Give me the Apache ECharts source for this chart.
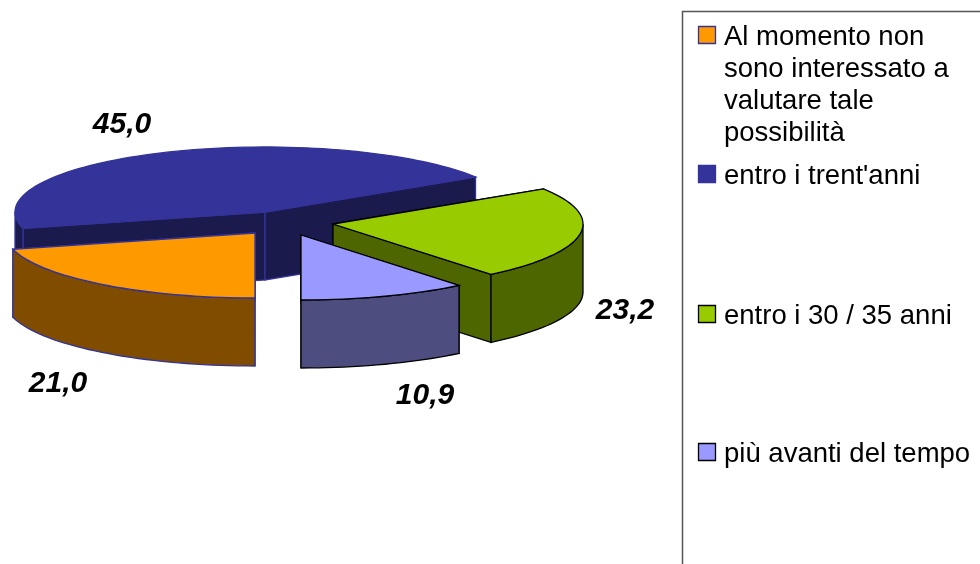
<!DOCTYPE html>
<html>
<head>
<meta charset="utf-8">
<script src="https://cdn.jsdelivr.net/npm/echarts@6/dist/echarts.min.js"></script>
<style>
html, body { margin: 0; padding: 0; background: #fff; }
#chart { width: 980px; height: 564px; }
</style>
</head>
<body>
<div id="chart"></div>
<script>
// dati
const categories = ['Al momento non\nsono interessato a\nvalutare tale\npossibilità', "entro i trent'anni", 'entro i 30 / 35 anni', 'più avanti del tempo']
const values = [21.0, 45.0, 23.2, 10.9]

// aspetto di ogni fetta
const topColors = ['#FF9900', '#333399', '#99CC00', '#9999FF']
const sideColors = ['#804D00', '#1A1A4D', '#4D6600', '#4D4D80']
const lineColors = ['#333399', '#333399', '#000000', '#000000']
const centersX = [255, 265, 333, 301]
const centersY = [233, 212, 224, 235]
const labelsX = [58, 122, 625, 425]
const labelsY = [384, 125, 311, 396]
const drawOrder = [3, 0, 1, 2]
const legendY = [35, 174, 314, 452]

const radiusX = 250
const radiusY = 65
const depth = 68
const startAngle = 180 // la prima fetta parte dal basso, senso orario

const total = values.reduce((a, b) => a + b, 0)

const project = (cx, cy, deg, drop) => {
	const rad = deg * Math.PI / 180
	return [cx + radiusX * Math.sin(rad), cy - radiusY * Math.cos(rad) + drop]
}

const arcPoints = (cx, cy, from, to, drop) => {
	const pts = []
	const steps = Math.max(2, Math.ceil(Math.abs(to - from) / 2))
	for (let s = 0; s <= steps; s++) {
		pts.push(project(cx, cy, from + (to - from) * s / steps, drop))
	}
	return pts
}

const renderSlice = (params, api) => {
	const i = api.value(0)
	let from = startAngle
	for (let k = 0; k < i; k++) from += values[k] / total * 360
	const to = from + api.value(1) / total * 360
	const cx = centersX[i]
	const cy = centersY[i]
	const base = drawOrder[i] * 10
	const stroke = lineColors[i]
	const sideStyle = { fill: sideColors[i], stroke: stroke, lineWidth: 1.3 }
	const children = []

	// pareti interne
	;[from, to].forEach((deg, n) => {
		const p = project(cx, cy, deg, 0)
		const q = project(cx, cy, deg, depth)
		children.push({
			type: 'polygon',
			z2: base + n,
			shape: { points: [[cx, cy], p, q, [cx, cy + depth]] },
			style: sideStyle
		})
	})

	// bordo esterno, solo la parte davanti (90-270 gradi)
	const visible = [[from, to], [from - 360, to - 360]]
	visible.forEach(range => {
		const a = Math.max(range[0], 90)
		const b = Math.min(range[1], 270)
		if (b > a) {
			children.push({
				type: 'polygon',
				z2: base + 2,
				shape: { points: arcPoints(cx, cy, a, b, 0).concat(arcPoints(cx, cy, b, a, depth)) },
				style: sideStyle
			})
		}
	})

	// faccia superiore
	children.push({
		type: 'polygon',
		z2: base + 3,
		shape: { points: [[cx, cy]].concat(arcPoints(cx, cy, from, to, 0)) },
		style: { fill: topColors[i], stroke: stroke, lineWidth: 1.3 }
	})

	// etichetta del valore
	children.push({
		type: 'text',
		z2: 100,
		style: {
			text: api.value(1).toFixed(1).replace('.', ','),
			x: labelsX[i],
			y: labelsY[i],
			fill: '#000',
			font: 'italic bold 30px "Liberation Sans", Arial, sans-serif',
			align: 'center',
			verticalAlign: 'middle'
		}
	})
	return { type: 'group', children: children }
}

const legendGraphics = [{
	type: 'rect',
	shape: { x: 682.5, y: 11.5, width: 320, height: 600 },
	style: { fill: '#fff', stroke: '#555', lineWidth: 1.5 }
}]
categories.forEach((name, i) => {
	legendGraphics.push({
		type: 'rect',
		shape: { x: 698.5, y: legendY[i] - 8.5, width: 17, height: 17 },
		style: { fill: topColors[i], stroke: lineColors[i], lineWidth: 1.3 }
	})
	legendGraphics.push({
		type: 'text',
		style: {
			text: name,
			x: 724,
			y: legendY[i] - 14,
			fill: '#000',
			font: '27.5px "Liberation Sans", Arial, sans-serif',
			lineHeight: 32,
			align: 'left',
			verticalAlign: 'top'
		}
	})
})

const myChart = echarts.init(document.getElementById('chart'), null, { renderer: 'canvas' })
myChart.setOption({
	animation: false,
	backgroundColor: '#fff',
	graphic: legendGraphics,
	series: [{
		type: 'custom',
		coordinateSystem: 'none',
		silent: true,
		renderItem: renderSlice,
		data: categories.map((name, i) => ({ name: name, value: [i, values[i]] }))
	}]
})
</script>
</body>
</html>
